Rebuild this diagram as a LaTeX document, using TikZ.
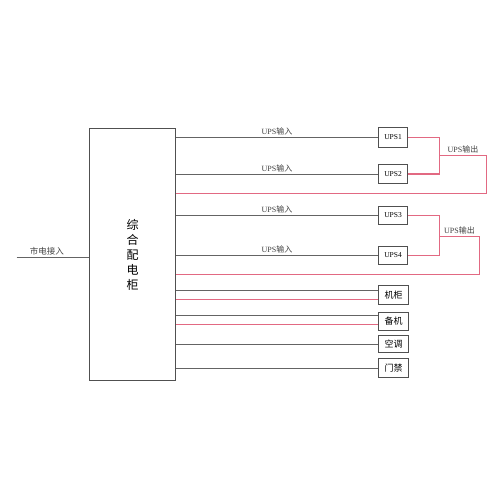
\documentclass[tikz,border=0pt]{standalone}
\usepackage{fontspec}
\setmainfont{Liberation Serif}
\newfontfamily\cjk{Noto Sans CJK SC}
\definecolor{gl}{RGB}{100,100,100}
\definecolor{rl}{RGB}{226,105,130}
\definecolor{bx}{RGB}{80,80,80}
\begin{document}
\begin{tikzpicture}[x=1pt,y=-1pt,
  box/.style={draw=bx, line width=1pt, fill=white, inner sep=0pt, minimum width=29pt, font=\fontsize{7.5}{8}\selectfont},
  cbox/.style={box, minimum width=30pt, font=\cjk\fontsize{9}{9}\selectfont},
  gline/.style={draw=gl, line width=1pt},
  rline/.style={draw=rl, line width=1.6pt},
  lab/.style={font=\fontsize{8}{8}\selectfont, inner sep=1.5pt, text=black!75}]
\useasboundingbox (0,0) rectangle (500,500);
\begin{scope}[shift={(0.5,0.5)}]
% UPS outputs (drawn first, boxes on top)
\coordinate (j1) at (439,155);
\coordinate (k1) at (486,155);
\coordinate (j2) at (439,236);
\coordinate (k2) at (479,236);
\node[box, minimum width=86pt, minimum height=252pt, align=center, font=\cjk\fontsize{12}{15}\selectfont] (main) at (132,254) {综\\合\\配\\电\\柜};
\node[box, minimum height=20pt] (ups1) at (392.5,137) {UPS1};
\node[box, minimum height=19pt] (ups2) at (392.5,173.5) {UPS2};
\node[box, minimum height=18pt] (ups3) at (392.5,215) {UPS3};
\node[box, minimum height=18pt] (ups4) at (392.5,255) {UPS4};
\node[cbox, minimum height=19pt] (jigui) at (393,294.5) {机柜};
\node[cbox, minimum height=18pt] (beiji) at (393,321) {备机};
\node[cbox, minimum height=17pt] (kt) at (393,343.5) {空调};
\node[cbox, minimum height=19pt] (mj) at (393,367.5) {门禁};
% input
\coordinate (in) at (16,257);
\draw[gline] (in) -- node[lab, above, pos=0.42, font=\cjk\fontsize{8.5}{9}\selectfont] {市电接入} (main.west |- in);
% UPS inputs
\draw[gline] (main.east |- ups1.west) -- node[lab, above] {UPS{\cjk 输入}} (ups1.west);
\draw[gline] (main.east |- ups2.west) -- node[lab, above] {UPS{\cjk 输入}} (ups2.west);
\draw[gline] (main.east |- ups3.west) -- node[lab, above] {UPS{\cjk 输入}} (ups3.west);
\draw[gline] (main.east |- ups4.west) -- node[lab, above] {UPS{\cjk 输入}} (ups4.west);
% UPS outputs
\draw[rline] (ups1.east) -| (j1) |- (ups2.east);
\draw[rline] (j1) -- node[lab, above] {UPS{\cjk 输出}} (k1) |- (main.east |- 0,193);
\draw[rline] (ups3.east) -| (j2) |- (ups4.east);
\draw[rline] (j2) -- node[lab, above] {UPS{\cjk 输出}} (k2) |- (main.east |- 0,274);
% loads
\draw[gline] (main.east |- 0,290) -- (jigui.west |- 0,290);
\draw[rline] (main.east |- 0,299) -- (jigui.west |- 0,299);
\draw[gline] (main.east |- 0,315) -- (beiji.west |- 0,315);
\draw[rline] (main.east |- 0,324) -- (beiji.west |- 0,324);
\draw[gline] (main.east |- kt.west) -- (kt.west);
\draw[gline] (main.east |- mj.west) -- (mj.west);
\end{scope}
\end{tikzpicture}
\end{document}
